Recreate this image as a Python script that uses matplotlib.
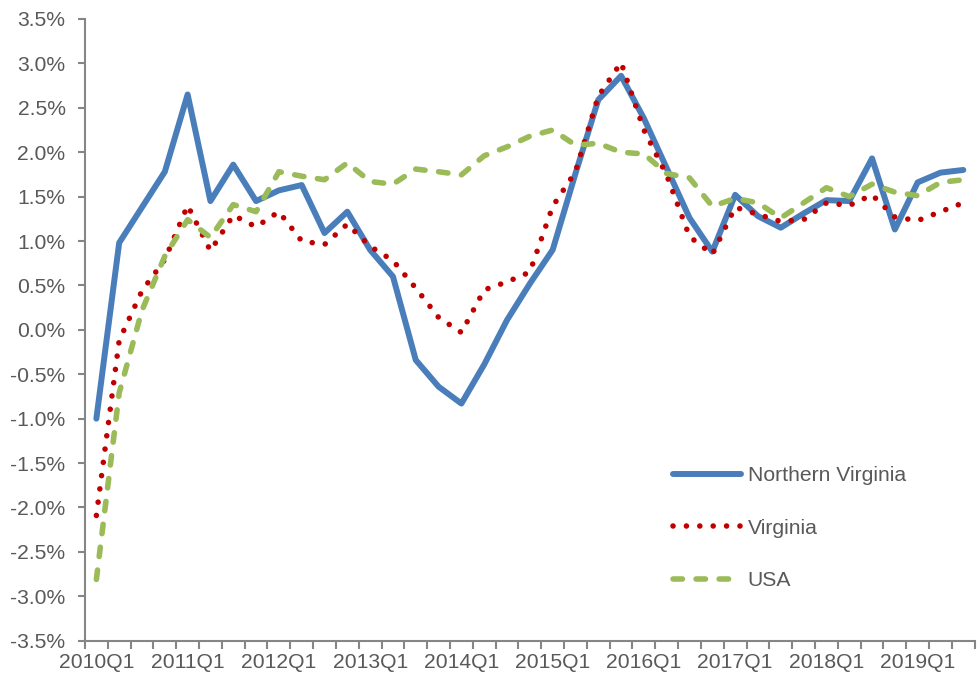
import matplotlib
matplotlib.use("Agg")
import matplotlib.pyplot as plt
import numpy as np
from matplotlib.ticker import FixedLocator, FuncFormatter

# Quarterly series 2010Q1 .. 2019Q3 (percent)
quarters = [f"{y}Q{q}" for y in range(2010, 2020) for q in range(1, 5)][:39]

northern_virginia = [
    -1.00, 0.98, 1.38, 1.78, 2.65, 1.45, 1.86, 1.45, 1.57, 1.63,
    1.09, 1.33, 0.90, 0.60, -0.34, -0.64, -0.83, -0.39, 0.11, 0.52,
    0.90, 1.76, 2.59, 2.86, 2.38, 1.82, 1.26, 0.88, 1.52, 1.28,
    1.15, 1.31, 1.46, 1.45, 1.93, 1.13, 1.66, 1.77, 1.80,
]
virginia = [
    -2.09, -0.12, 0.44, 0.79, 1.40, 0.89, 1.29, 1.16, 1.33, 1.00,
    0.96, 1.19, 0.94, 0.78, 0.47, 0.14, -0.03, 0.45, 0.54, 0.65,
    1.39, 1.78, 2.63, 3.01, 2.25, 1.74, 1.05, 0.85, 1.38, 1.30,
    1.22, 1.24, 1.43, 1.40, 1.52, 1.27, 1.23, 1.33, 1.43,
]
usa = [
    -2.81, -0.71, 0.22, 0.83, 1.24, 1.04, 1.41, 1.33, 1.78, 1.73,
    1.69, 1.88, 1.67, 1.64, 1.81, 1.78, 1.745, 1.96, 2.06, 2.18,
    2.25, 2.08, 2.10, 2.00, 1.98, 1.76, 1.71, 1.39, 1.48, 1.43,
    1.26, 1.43, 1.60, 1.50, 1.64, 1.55, 1.51, 1.66, 1.69,
]
series_names = ["Northern Virginia", "Virginia", "USA"]

text_color = "#595959"
axis_color = "#868686"

plt.rcParams["font.family"] = ["Liberation Sans", "DejaVu Sans"]
plt.rcParams["font.size"] = 15.2

fig = plt.figure(figsize=(9.8, 6.75), dpi=100)
ax = fig.add_axes([0.0867, 0.0508, 0.9079, 0.9211])

x = np.arange(len(quarters))

ax.plot(x, northern_virginia, color="#4A7EBB", lw=4.3,
        solid_joinstyle="round", solid_capstyle="round",
        label=series_names[0])
ax.plot(x, virginia, color="#C00000", lw=4.0,
        linestyle=(0, (0.01, 2.4)), dash_capstyle="round",
        label=series_names[1])
ax.plot(x, usa, color="#9BBB59", lw=4.0,
        linestyle=(0, (1.7, 2.45)), dash_capstyle="round",
        dash_joinstyle="round", label=series_names[2])

ax.set_xlim(-0.5, len(quarters) - 0.5)
ax.set_ylim(-3.5, 3.5)

# y axis
ax.yaxis.set_major_locator(FixedLocator(np.arange(-3.5, 3.51, 0.5)))
ax.yaxis.set_major_formatter(FuncFormatter(lambda v, p: f"{v:.1f}%"))

# x axis: tick marks on category boundaries, labels on Q1 centers
ax.xaxis.set_major_locator(FixedLocator(np.arange(-0.5, len(quarters), 1.0)))
ax.xaxis.set_major_formatter(FuncFormatter(lambda v, p: ""))
label_pos = [i for i, q in enumerate(quarters) if q.endswith("Q1")]
ax.xaxis.set_minor_locator(FixedLocator(label_pos))
ax.xaxis.set_minor_formatter(FuncFormatter(lambda v, p: quarters[int(round(v))]))

ax.tick_params(axis="x", which="major", length=6, width=1.5, color=axis_color, direction="out")
ax.tick_params(axis="x", which="minor", length=0, pad=9, labelcolor=text_color, labelsize=15.2)
ax.tick_params(axis="y", which="major", length=5, width=1.5, color=axis_color,
               direction="out", pad=9, labelcolor=text_color, labelsize=15.2)

for side in ["top", "right"]:
    ax.spines[side].set_visible(False)
for side in ["left", "bottom"]:
    ax.spines[side].set_color(axis_color)
    ax.spines[side].set_linewidth(1.5)

leg = ax.legend(
    loc="upper left",
    bbox_to_anchor=(0.6864, 0.309),
    bbox_transform=fig.transFigure,
    frameon=False,
    borderpad=0,
    borderaxespad=0,
    handlelength=3.25,
    handletextpad=0.3,
    labelspacing=1.58,
    fontsize=15.2,
)
for t in leg.get_texts():
    t.set_color(text_color)

fig.savefig("out.png", dpi=100)
